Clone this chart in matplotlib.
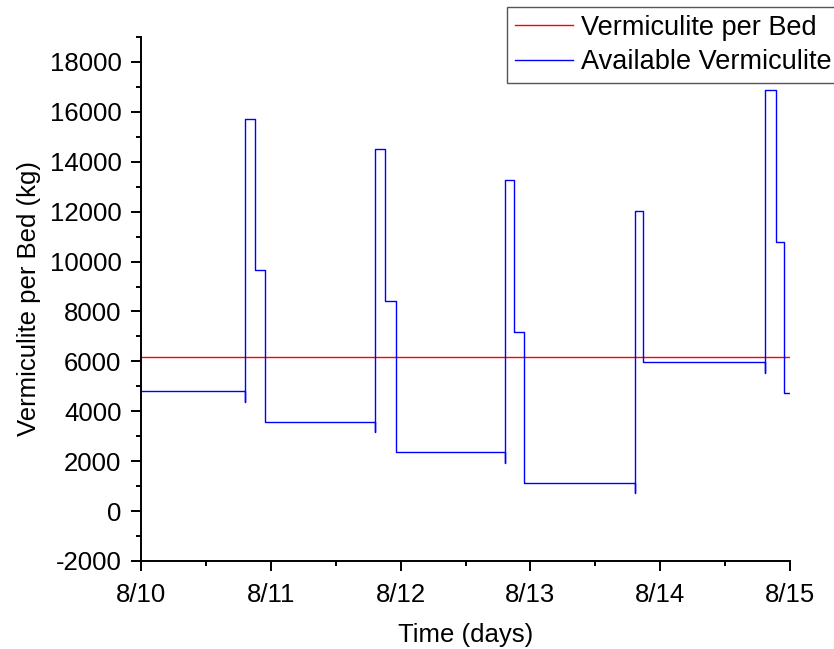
import matplotlib
matplotlib.use("Agg")
import matplotlib.pyplot as plt
import numpy as np

plt.rcParams['font.family'] = ['Liberation Sans', 'DejaVu Sans']
plt.rcParams['font.size'] = 18.5
plt.rcParams['axes.unicode_minus'] = False

# data (time in days after 8/10 00:00, vermiculite in kg)
time_days = [0.0, 0.805, 0.805, 0.805, 0.878, 0.878, 0.955, 0.955,
             1.805, 1.805, 1.805, 1.880, 1.880, 1.967, 1.967,
             2.807, 2.807, 2.807, 2.876, 2.876, 2.948, 2.948,
             3.806, 3.806, 3.806, 3.870, 3.870,
             4.810, 4.810, 4.810, 4.890, 4.890, 4.951, 4.951, 5.0]
available_kg = [4820, 4820, 4390, 15730, 15730, 9650, 9650, 3590,
                3590, 3160, 14500, 14500, 8430, 8430, 2360,
                2360, 1940, 13270, 13270, 7190, 7190, 1110,
                1110, 710, 12040, 12040, 5960,
                5960, 5530, 16880, 16880, 10800, 10800, 4730, 4730]
per_bed_kg = 6170
per_bed_span = [0.0, 5.0]

tick_days = [0, 1, 2, 3, 4, 5]
tick_labels = ["8/10", "8/11", "8/12", "8/13", "8/14", "8/15"]

fig = plt.figure(figsize=(8.34, 6.49), dpi=100)
ax = fig.add_axes([141/834, 1-561/649, (790-141)/834, (561-37)/649])

l1, = ax.plot(per_bed_span, [per_bed_kg, per_bed_kg], color="#ff0000", lw=1.0)
l2, = ax.plot(time_days, available_kg, color="#0000ff", lw=1.0)

ax.set_xlim(0, 5)
ax.set_ylim(-2000, 19000)
ax.set_xticks(tick_days)
ax.set_xticklabels(tick_labels)
ax.set_xticks(np.arange(0.5, 5, 1), minor=True)
ax.set_yticks(np.arange(-2000, 18001, 2000))
ax.set_yticks(np.arange(-1000, 19001, 2000), minor=True)

for s in ["top", "right"]:
    ax.spines[s].set_visible(False)
for s in ["left", "bottom"]:
    ax.spines[s].set_linewidth(1.4)
ax.tick_params(which="major", direction="out", length=7, width=1.4)
ax.tick_params(which="minor", direction="out", length=3.5, width=1.4)
ax.tick_params(axis="x", which="major", pad=9)
ax.tick_params(axis="y", which="major", pad=7)

ax.set_xlabel("Time (days)", labelpad=11.5)
ax.set_ylabel("Vermiculite per Bed (kg)", labelpad=6.5)

leg = fig.legend([l1, l2], ["Vermiculite per Bed", "Available Vermiculite"],
                 loc="upper left", bbox_to_anchor=(507/834, 1-7/649),
                 frameon=True, fancybox=False, framealpha=1, fontsize=19.5,
                 edgecolor="#555555", borderpad=0.28, handlelength=2.15,
                 handletextpad=0.3, labelspacing=0.32, borderaxespad=0)
leg.get_frame().set_linewidth(1.0)

fig.savefig("out.png", dpi=100)
